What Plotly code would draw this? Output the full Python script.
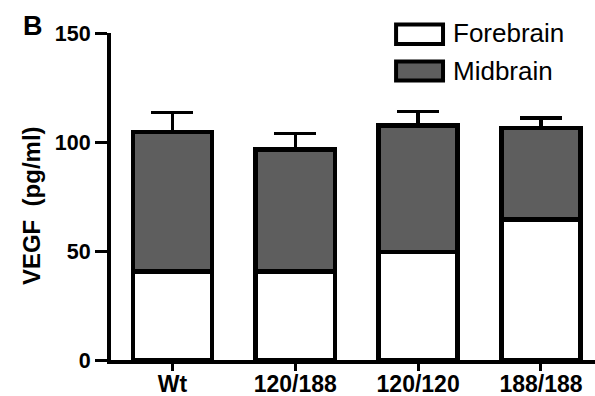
import plotly.graph_objects as go

categories = ["Wt", "120/188", "120/120", "188/188"]
forebrain = [40.5, 40.5, 49.5, 64.5]
midbrain = [64, 56, 58, 42]
midbrain_sem = [9, 7.5, 6.5, 4.5]
y_ticks = [0, 50, 100, 150]

FONT = "Liberation Sans, Arial, sans-serif"
GRAY = "#5e5e5e"
LW = 4.5

fig = go.Figure()
fig.add_trace(go.Bar(
    x=categories, y=forebrain, name="Forebrain", width=0.645,
    marker=dict(color="white", line=dict(color="black", width=LW)),
))
fig.add_trace(go.Bar(
    x=categories, y=midbrain, name="Midbrain", width=0.645,
    marker=dict(color=GRAY, line=dict(color="black", width=LW)),
    error_y=dict(type="data", array=midbrain_sem, arrayminus=[0] * 4,
                 symmetric=False, color="black", thickness=3.5, width=21),
))

fig.update_layout(
    barmode="stack",
    width=595, height=396,
    margin=dict(l=111, r=0, t=33, b=36),
    paper_bgcolor="white", plot_bgcolor="white",
    showlegend=False,
    font=dict(family=FONT, color="black"),
)
fig.update_xaxes(
    range=[-0.5, 3.44], showgrid=False, zeroline=False, automargin=False,
    showline=True, linecolor="black", linewidth=4,
    ticks="outside", ticklen=7, tickwidth=3, tickcolor="black",
    ticklabelstandoff=-7,
    tickfont=dict(family=FONT, size=23, color="black", weight="bold"),
)
fig.update_yaxes(
    range=[0, 150], tickvals=y_ticks, showgrid=False, zeroline=False,
    automargin=False,
    showline=True, linecolor="black", linewidth=4,
    ticks="outside", ticklen=12, tickwidth=3, tickcolor="black",
    tickfont=dict(family=FONT, size=21.5, color="black", weight="bold"),
)

# legend swatches and labels
swatches = [("Forebrain", "white", 1.026, 0.966, 1.0),
            ("Midbrain", GRAY, 0.913, 0.855, 0.884)]
for label, fill, y1, y0, ytext in swatches:
    fig.add_shape(type="rect", xref="paper", yref="paper",
                  x0=0.589, x1=0.686, y0=y0, y1=y1,
                  fillcolor=fill, line=dict(color="black", width=4))
    fig.add_annotation(text=label, xref="paper", yref="paper",
                       x=0.703, y=ytext, xanchor="left", yanchor="middle",
                       showarrow=False,
                       font=dict(family=FONT, size=26, color="black"))

fig.add_annotation(text="<b>B</b>", xref="paper", yref="paper",
                   x=-0.186, y=1.022, xanchor="left", yanchor="middle",
                   showarrow=False, font=dict(family=FONT, size=27, color="black"))
fig.add_annotation(text="<b>VEGF  (pg/ml)</b>", xref="paper", yref="paper",
                   x=-0.163, y=0.471, xanchor="center", yanchor="middle",
                   textangle=-90, showarrow=False,
                   font=dict(family=FONT, size=24, color="black"))

fig.write_html("out.html")
